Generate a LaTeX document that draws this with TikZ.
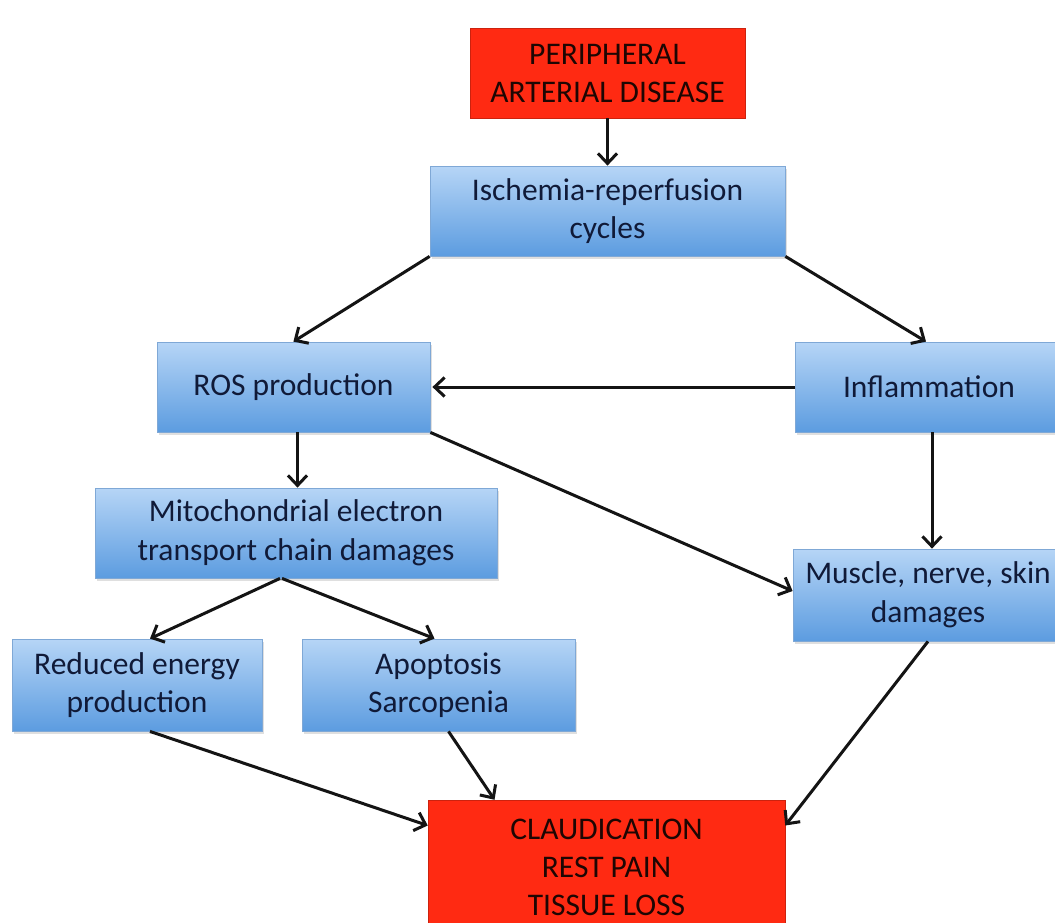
\documentclass[tikz,border=0pt]{standalone}
\usepackage{fontspec}
\setmainfont{Carlito}
\usetikzlibrary{arrows.meta,shadows}
\definecolor{navy}{HTML}{101A38}
\definecolor{boxtop}{HTML}{B6D5F6}
\definecolor{boxbot}{HTML}{5C9CE0}
\definecolor{boxedge}{HTML}{7FA8D6}
\definecolor{redfill}{HTML}{FF2A12}
\definecolor{redtext}{HTML}{1E0603}
\tikzset{
  bluebox/.style={rectangle, top color=boxtop, bottom color=boxbot, draw=boxedge, line width=0.8pt,
    inner sep=0pt, align=center, text=navy, font=\fontsize{31.5}{38.5}\selectfont,
    drop shadow={shadow xshift=2pt, shadow yshift=-3pt, opacity=0.25}},
  redbox/.style={rectangle, fill=redfill, draw=redfill!80!black, line width=0.5pt,
    inner sep=0pt, align=center, text=redtext, font=\fontsize{31.5}{38}\selectfont},
  conn/.style={line width=3pt, -{Straight Barb[length=10pt,width=19pt,line width=3pt]}, black!92}
}
\begin{document}
\begin{tikzpicture}[x=1pt,y=-1pt]
\useasboundingbox (0,0) rectangle (1055,922);
\clip (0,0) rectangle (1055,922);
\fill[white] (0,0) rectangle (1055,922);
\node[redbox, minimum width=275pt, minimum height=90pt] (pad) at (607.5,73) {PERIPHERAL\\ARTERIAL DISEASE};
\node[bluebox, minimum width=355pt, minimum height=90pt] (isch) at (607.5,211) {Ischemia-reperfusion\\cycles};
\node[bluebox, minimum width=273pt, minimum height=90pt] (ros) at (293.5,387) {ROS production};
\node[bluebox, minimum width=268pt, minimum height=90pt] (infl) at (929,387) {Inflammation};
\node[bluebox, minimum width=402pt, minimum height=90pt] (mito) at (296,533) {Mitochondrial electron\\transport chain damages};
\node[bluebox, minimum width=270pt, minimum height=92pt] (musc) at (928,595) {Muscle, nerve, skin\\damages};
\node[bluebox, minimum width=250pt, minimum height=92pt] (red) at (137,685) {Reduced energy\\production};
\node[bluebox, minimum width=273pt, minimum height=92pt] (apop) at (438.5,685) {Apoptosis\\Sarcopenia};
\node[redbox, minimum width=357pt, minimum height=135pt] (claud) at (606.5,867.5) {CLAUDICATION\\REST PAIN\\TISSUE LOSS};
\draw[conn] (pad.south) -- (isch.north);
\draw[conn] (isch.south west) -- ([xshift=-137pt]ros.north east);
\draw[conn] (isch.south east) -- ([xshift=-3pt]infl.north);
\draw[conn] (infl.west) -- ([xshift=2pt]ros.east);
\draw[conn] ([xshift=4pt]ros.south) -- ([xshift=4pt]ros.south |- mito.north);
\draw[conn] (ros.south east) -- ([yshift=4pt]musc.west);
\draw[conn] ([xshift=3pt]infl.south) -- ([xshift=3pt]infl.south |- musc.north);
\draw[conn] ([xshift=-16pt]mito.south) -- ([xshift=13pt]red.north);
\draw[conn] ([xshift=-14pt]mito.south) -- ([xshift=-4pt]apop.north);
\draw[conn] ([xshift=13pt]red.south) -- ([yshift=42pt]claud.west);
\draw[conn] ([xshift=10pt]apop.south) -- ([xshift=-112pt]claud.north);
\draw[conn] (musc.south) -- ([yshift=42pt]claud.east);
\end{tikzpicture}
\end{document}
